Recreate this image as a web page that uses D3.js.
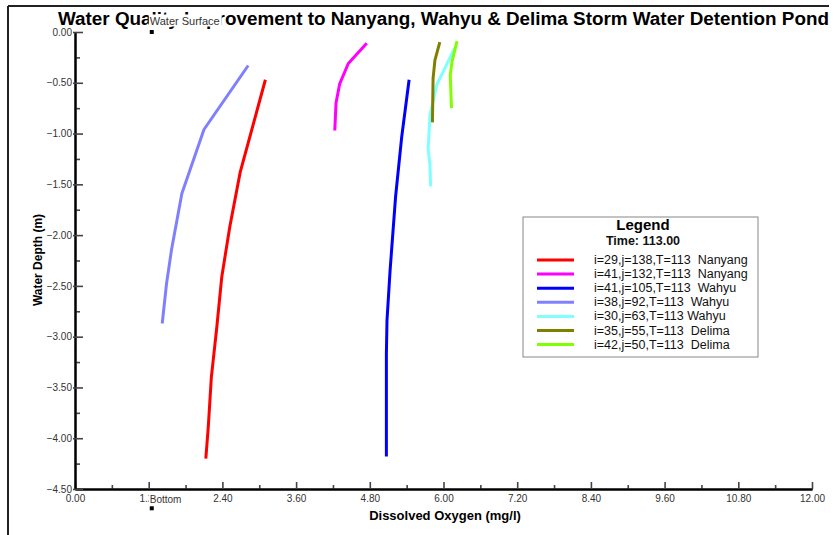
<!DOCTYPE html>
<html>
<head>
<meta charset="utf-8">
<script src="https://cdn.jsdelivr.net/npm/d3@7"></script>
<style>
  body { margin: 0; background: #fff; }
  svg { display: block; font-family: Arial, "Liberation Sans", sans-serif; }
</style>
</head>
<body>
<svg id="chart" width="834" height="535"></svg>
<script>
// ---------- Data ----------
const chartTitle = "Water Quality Improvement to Nanyang, Wahyu & Delima Storm Water Detention Pond";
const xTicks = [0, 1.2, 2.4, 3.6, 4.8, 6.0, 7.2, 8.4, 9.6, 10.8, 12.0];
const yTicks = [0, -0.5, -1.0, -1.5, -2.0, -2.5, -3.0, -3.5, -4.0, -4.5];

const seriesLabels = [
  "i=29,j=138,T=113  Nanyang",
  "i=41,j=132,T=113  Nanyang",
  "i=41,j=105,T=113  Wahyu",
  "i=38,j=92,T=113  Wahyu",
  "i=30,j=63,T=113 Wahyu",
  "i=35,j=55,T=113  Delima",
  "i=42,j=50,T=113  Delima"
];
const seriesColors = ["#ff0000", "#ff00ff", "#0000ff", "#8080ff", "#80ffff", "#808000", "#80ff00"];

// Dissolved oxygen (mg/l) and depth (m) per series
const do_i29j138  = [3.10, 2.69, 2.52, 2.39, 2.31, 2.22, 2.17, 2.13];
const dep_i29j138 = [-0.47, -1.38, -1.92, -2.41, -2.90, -3.40, -3.89, -4.20];

const do_i41j132  = [4.75, 4.45, 4.31, 4.25, 4.23];
const dep_i41j132 = [-0.11, -0.31, -0.51, -0.70, -0.97];

const do_i41j105  = [5.44, 5.32, 5.22, 5.13, 5.08, 5.07, 5.07];
const dep_i41j105 = [-0.47, -1.03, -1.62, -2.35, -2.84, -3.17, -4.18];

const do_i38j92   = [2.82, 2.10, 1.74, 1.57, 1.49, 1.42];
const dep_i38j92  = [-0.33, -0.96, -1.59, -2.15, -2.48, -2.87];

const do_i30j63   = [6.18, 5.89, 5.78, 5.75, 5.78, 5.79];
const dep_i30j63  = [-0.16, -0.52, -0.82, -1.15, -1.31, -1.52];

const do_i35j55   = [5.94, 5.86, 5.83, 5.82];
const dep_i35j55  = [-0.10, -0.28, -0.46, -0.89];

const do_i42j50   = [6.22, 6.14, 6.11, 6.13];
const dep_i42j50  = [-0.09, -0.29, -0.42, -0.75];

const doSeries = [do_i29j138, do_i41j132, do_i41j105, do_i38j92, do_i30j63, do_i35j55, do_i42j50];
const depthSeries = [dep_i29j138, dep_i41j132, dep_i41j105, dep_i38j92, dep_i30j63, dep_i35j55, dep_i42j50];

const legendTitle = "Legend";
const legendTime = "Time: 113.00";
const markerLabels = ["Water Surface", "Bottom"];
const markerDO = [1.25, 1.25];
const markerDepth = [0.0, -4.69];

// ---------- Drawing ----------
const svg = d3.select("#chart");
const pLeft = 75, pRight = 812, pTop = 32, pBottom = 489;

const x = d3.scaleLinear().domain([0, 12]).range([pLeft, pRight]);
const y = d3.scaleLinear().domain([-4.5, 0]).range([pBottom, pTop]);

// stretch a text element horizontally to a target width
function fitWidth(sel, w) {
  sel.attr("textLength", w).attr("lengthAdjust", "spacingAndGlyphs");
  return sel;
}

// outer frame (top & left)
svg.append("line").attr("x1", 8).attr("x2", 829).attr("y1", 6).attr("y2", 6)
  .attr("stroke", "#222").attr("stroke-width", 2);
svg.append("line").attr("x1", 8).attr("x2", 8).attr("y1", 6).attr("y2", 535)
  .attr("stroke", "#222").attr("stroke-width", 2);

// title
fitWidth(svg.append("text").attr("x", 58).attr("y", 25)
  .attr("font-size", 17.5).attr("font-weight", "bold").attr("fill", "#000")
  .text(chartTitle), 771);

const fmt = d3.format(".2f");

// X axis
const minorX = d3.range(0, xTicks.length - 1).map(i => (xTicks[i] + xTicks[i + 1]) / 2);
const gxMinor = svg.append("g").attr("transform", `translate(0,${pBottom})`)
  .call(d3.axisBottom(x).tickValues(minorX).tickSizeInner(-4).tickSizeOuter(0).tickFormat(""));
const gx = svg.append("g").attr("transform", `translate(0,${pBottom})`)
  .call(d3.axisBottom(x).tickValues(xTicks).tickSizeInner(-7).tickSizeOuter(0).tickPadding(6).tickFormat(fmt));

// Y axis
const minorY = d3.range(0, yTicks.length - 1).map(i => (yTicks[i] + yTicks[i + 1]) / 2);
const gyMinor = svg.append("g").attr("transform", `translate(${pLeft},0)`)
  .call(d3.axisLeft(y).tickValues(minorY).tickSizeInner(-5).tickSizeOuter(0).tickFormat(""));
const gy = svg.append("g").attr("transform", `translate(${pLeft},0)`)
  .call(d3.axisLeft(y).tickValues(yTicks).tickSizeInner(-8).tickSizeOuter(0).tickPadding(3).tickFormat(fmt));

[gx, gy, gxMinor, gyMinor].forEach(g => {
  g.select(".domain").attr("stroke", "#000").attr("stroke-width", 2);
  g.selectAll(".tick line").attr("stroke", "#444").attr("stroke-width", 1.6);
  g.selectAll(".tick text").attr("font-size", 10).attr("fill", "#333")
    .attr("font-family", "Arial, 'Liberation Sans', sans-serif");
});
gy.selectAll(".tick line").attr("x1", -2);

// axis titles
svg.append("text").attr("x", 445).attr("y", 520).attr("text-anchor", "middle")
  .attr("font-size", 13).attr("font-weight", "bold").text("Dissolved Oxygen (mg/l)");
svg.append("text").attr("transform", "translate(42,260) rotate(-90)").attr("text-anchor", "middle")
  .attr("font-size", 12).attr("font-weight", "bold").text("Water Depth (m)");

// profile lines
const line = d3.line().x(d => x(d[0])).y(d => y(d[1]));
doSeries.forEach((vals, i) => {
  const pts = vals.map((v, k) => [v, depthSeries[i][k]]);
  svg.append("path").datum(pts).attr("d", line)
    .attr("fill", "none").attr("stroke", seriesColors[i])
    .attr("stroke-width", 3).attr("stroke-linejoin", "round");
});

// markers: Water Surface / Bottom
markerLabels.forEach((lab, i) => {
  const mx = x(markerDO[i]), my = y(markerDepth[i]);
  const ty = i === 0 ? my - 11 : my - 9;
  const t = svg.append("text").attr("x", mx - 2).attr("y", ty + 3.5)
    .attr("font-size", i === 0 ? 11 : 10).attr("fill", "#333").text(lab);
  const bb = t.node().getBBox();
  svg.insert("rect", () => t.node())
    .attr("x", bb.x - 1).attr("y", bb.y).attr("width", bb.width + 3).attr("height", bb.height)
    .attr("fill", "#fff");
  svg.append("rect").attr("x", mx - 2).attr("y", my - 2).attr("width", 4).attr("height", 4).attr("fill", "#000");
});

// legend
const lg = svg.append("g");
lg.append("rect").attr("x", 523).attr("y", 217).attr("width", 235).attr("height", 140)
  .attr("fill", "#fff").attr("stroke", "#888").attr("stroke-width", 1);
lg.append("text").attr("x", 643).attr("y", 230).attr("text-anchor", "middle")
  .attr("font-size", 15).attr("font-weight", "bold").text(legendTitle);
lg.append("text").attr("x", 643).attr("y", 245).attr("text-anchor", "middle")
  .attr("font-size", 12.5).attr("font-weight", "bold").attr("fill", "#111").text(legendTime);
seriesLabels.forEach((lab, i) => {
  const ry = 260 + i * 14.1;
  lg.append("line").attr("x1", 537).attr("x2", 574).attr("y1", ry).attr("y2", ry)
    .attr("stroke", seriesColors[i]).attr("stroke-width", 3);
  const t = lg.append("text").attr("x", 594).attr("y", ry + 4).attr("font-size", 12.5)
    .attr("fill", "#111").style("white-space", "pre").text(lab);
});
</script>
</body>
</html>
